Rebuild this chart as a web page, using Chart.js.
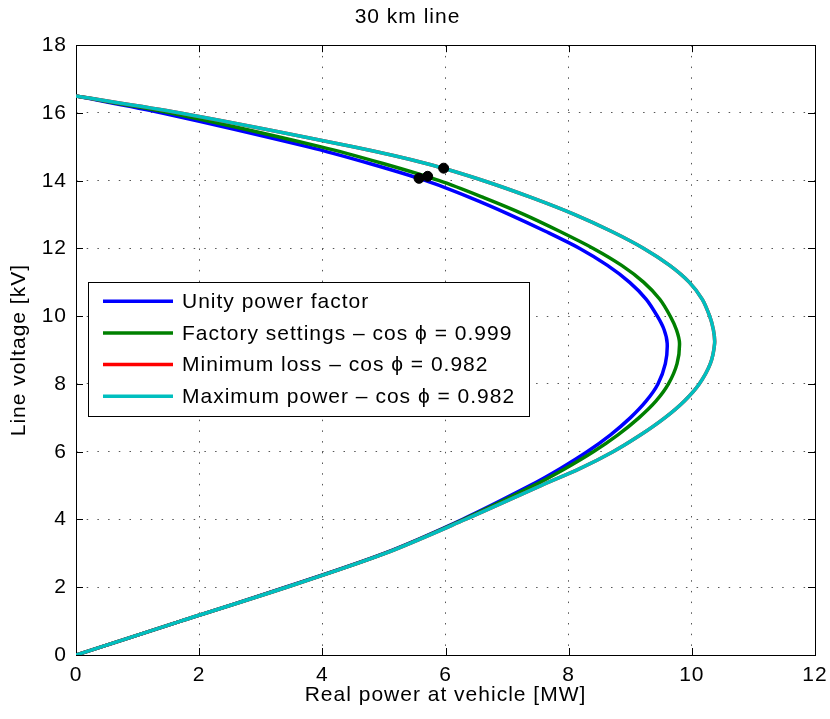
<!DOCTYPE html>
<html>
<head>
<meta charset="utf-8">
<title>30 km line</title>
<script src="https://cdn.jsdelivr.net/npm/chart.js@4.4.0/dist/chart.umd.min.js"></script>
<style>
  html, body { margin: 0; padding: 0; background: #fff; }
  #wrap { width: 830px; height: 719px; }
</style>
</head>
<body>
<div id="wrap"><canvas id="pvChart" width="830" height="719"></canvas></div>
<script>
// Line voltage samples along each PV curve (kV), from no load round the nose down to zero
const voltage = [16.5, 16, 15, 14.5, 14, 13.5, 13, 12.5, 12, 11.5, 11, 10.5, 10, 9.6, 9.2,
                 8.6, 8, 7.5, 7, 6.5, 6, 5.5, 5, 4, 3, 2, 1, 0];

// Real power at the vehicle for each voltage sample (MW)
const pUnity    = [0, 1.4, 3.77, 4.78, 5.68, 6.4, 7.04, 7.63, 8.18, 8.63, 8.99, 9.26, 9.44, 9.55, 9.6,
                   9.57, 9.45, 9.26, 9.0, 8.68, 8.3, 7.86, 7.37, 6.27, 5.0, 3.4, 1.7, 0];
const pFactory  = [0, 1.54, 3.98, 5.0, 5.9, 6.62, 7.28, 7.86, 8.4, 8.86, 9.22, 9.48, 9.65, 9.75, 9.8,
                   9.76, 9.62, 9.42, 9.14, 8.8, 8.4, 7.94, 7.43, 6.29, 5.01, 3.41, 1.7, 0];
const pMinLoss  = [0, 1.69, 4.5, 5.7, 6.62, 7.4, 8.1, 8.7, 9.22, 9.64, 9.96, 10.17, 10.29, 10.35, 10.37,
                   10.3, 10.12, 9.88, 9.56, 9.17, 8.72, 8.18, 7.55, 6.32, 5.02, 3.42, 1.7, 0];
const pMaxPower = [0, 1.69, 4.5, 5.7, 6.62, 7.4, 8.1, 8.7, 9.22, 9.64, 9.96, 10.17, 10.29, 10.35, 10.37,
                   10.3, 10.12, 9.88, 9.56, 9.17, 8.72, 8.18, 7.55, 6.32, 5.02, 3.42, 1.7, 0];

// Operating points marked on the curves
const opPower   = [5.57, 5.71, 5.97];
const opVoltage = [14.07, 14.13, 14.37];

const seriesLabels = [
  'Unity power factor',
  'Factory settings \u2013 cos \u03d5 = 0.999',
  'Minimum loss \u2013 cos \u03d5 = 0.982',
  'Maximum power \u2013 cos \u03d5 = 0.982'
];
const seriesColors = ['#0000ff', '#008000', '#ff0000', '#00bfbf'];
const seriesPower = [pUnity, pFactory, pMinLoss, pMaxPower];

const FONT = 'Liberation Sans, Arial, Helvetica, sans-serif';

const toPoints = (xs, ys) => xs.map((x, i) => ({ x: x, y: ys[i] }));

const datasets = seriesPower.map((p, i) => ({
  label: seriesLabels[i],
  data: toPoints(p, voltage),
  showLine: true,
  borderColor: seriesColors[i],
  backgroundColor: seriesColors[i],
  borderWidth: 3.5,
  pointRadius: 0,
  tension: 0.3,
  order: 4 - i
}));

datasets.push({
  label: 'operating points',
  data: toPoints(opPower, opVoltage),
  showLine: false,
  pointRadius: 5,
  pointBackgroundColor: '#000',
  pointBorderColor: '#000',
  order: 0,
  inLegend: false
});

// Slightly wider text, the canvas state is reset whenever the canvas is sized
const textSpacing = {
  id: 'textSpacing',
  beforeUpdate(chart) { chart.ctx.letterSpacing = '1px'; },
  beforeDraw(chart) { chart.ctx.letterSpacing = '1px'; }
};

// Frame round the plot area with short inward ticks on all four sides
const frameAxes = {
  id: 'frameAxes',
  beforeDatasetsDraw(chart) {
    const { ctx, chartArea: a, scales } = chart;
    const len = 7;
    ctx.save();
    ctx.strokeStyle = '#000';
    ctx.lineWidth = 1;
    ctx.beginPath();
    scales.x.ticks.forEach((t) => {
      const px = Math.round(scales.x.getPixelForValue(t.value)) + 0.5;
      ctx.moveTo(px, a.bottom); ctx.lineTo(px, a.bottom - len);
      ctx.moveTo(px, a.top); ctx.lineTo(px, a.top + len);
    });
    scales.y.ticks.forEach((t) => {
      const py = Math.round(scales.y.getPixelForValue(t.value)) + 0.5;
      ctx.moveTo(a.left, py); ctx.lineTo(a.left + len, py);
      ctx.moveTo(a.right, py); ctx.lineTo(a.right - len, py);
    });
    ctx.stroke();
    ctx.strokeRect(Math.round(a.left) + 0.5, Math.round(a.top) + 0.5,
      Math.round(a.right - a.left), Math.round(a.bottom - a.top));
    ctx.restore();
  }
};

// Boxed legend sitting inside the plot area
const boxLegend = {
  id: 'boxLegend',
  afterDatasetsDraw(chart) {
    const { ctx, chartArea: a } = chart;
    const items = chart.data.datasets.filter((d) => d.inLegend !== false);
    const x0 = a.left + 12, y0 = a.top + 237;
    const w = 441, rowH = 31.7, h = 134;
    ctx.save();
    ctx.fillStyle = '#fff';
    ctx.fillRect(x0, y0, w, h);
    ctx.strokeStyle = '#000';
    ctx.lineWidth = 1;
    ctx.strokeRect(Math.round(x0) + 0.5, Math.round(y0) + 0.5, w, h);
    ctx.font = '21px ' + FONT;
    ctx.textBaseline = 'middle';
    ctx.textAlign = 'left';
    items.forEach((d, i) => {
      const y = y0 + 19 + i * rowH;
      ctx.strokeStyle = d.borderColor;
      ctx.lineWidth = 3.5;
      ctx.beginPath();
      ctx.moveTo(x0 + 15, y);
      ctx.lineTo(x0 + 85, y);
      ctx.stroke();
      ctx.fillStyle = '#000';
      ctx.fillText(d.label, x0 + 94, y + 1);
    });
    ctx.restore();
  }
};

const gridDots = {
  color: '#555',
  lineWidth: 1,
  drawTicks: false
};

new Chart(document.getElementById('pvChart'), {
  type: 'scatter',
  data: { datasets: datasets },
  plugins: [textSpacing, frameAxes, boxLegend],
  options: {
    responsive: false,
    animation: false,
    layout: { padding: { left: 0, right: 15, top: 0, bottom: 0 } },
    plugins: {
      legend: { display: false },
      tooltip: { enabled: false },
      title: {
        display: true,
        text: '30 km line',
        color: '#000',
        font: { family: FONT, size: 21, weight: 'normal' },
        padding: { top: 5, bottom: 15 }
      }
    },
    scales: {
      x: {
        type: 'linear',
        min: 0,
        max: 12,
        ticks: {
          stepSize: 2,
          color: '#000',
          padding: 8,
          maxRotation: 0,
          font: { family: FONT, size: 21 }
        },
        grid: gridDots,
        border: { display: false, dash: [1.5, 9.2] },
        title: {
          display: true,
          text: 'Real power at vehicle [MW]',
          color: '#000',
          font: { family: FONT, size: 21 },
          padding: { top: 0, bottom: 11 }
        },
        afterFit(scale) {
          scale.height = 64;
          scale.paddingLeft = 0;
          scale.paddingRight = 0;
        }
      },
      y: {
        type: 'linear',
        min: 0,
        max: 18,
        ticks: {
          stepSize: 2,
          color: '#000',
          padding: 9,
          font: { family: FONT, size: 21 }
        },
        grid: gridDots,
        border: { display: false, dash: [1.5, 9.2] },
        title: {
          display: true,
          text: 'Line voltage [kV]',
          color: '#000',
          font: { family: FONT, size: 21 },
          padding: { top: 7, bottom: 0 }
        },
        afterFit(scale) {
          scale.width = 76;
          scale.paddingTop = 0;
          scale.paddingBottom = 0;
        }
      }
    }
  }
});
</script>
</body>
</html>
